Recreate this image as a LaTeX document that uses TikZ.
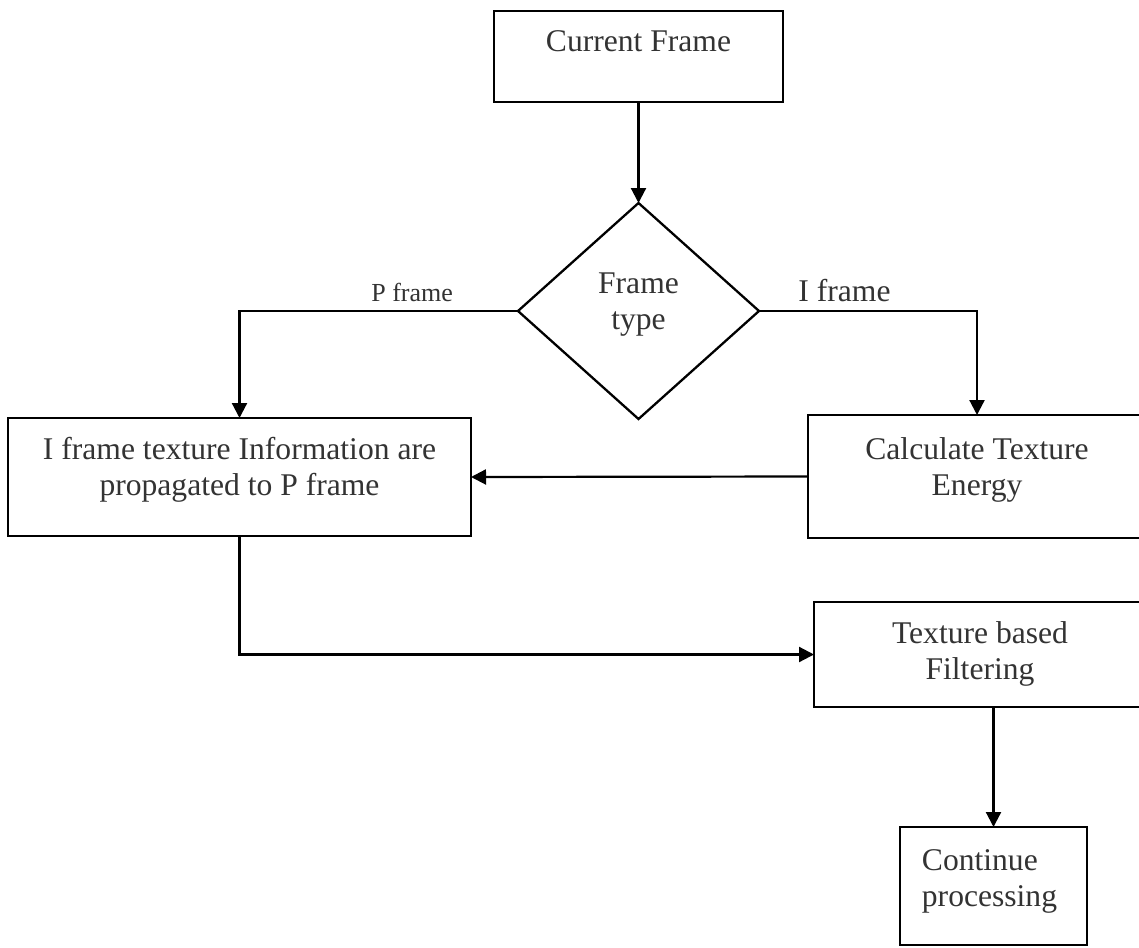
\documentclass[tikz,border=0pt]{standalone}
\usepackage{fontspec}
\setmainfont{Liberation Serif}
\usetikzlibrary{shapes.geometric,arrows.meta}

\begin{document}
\begin{tikzpicture}[x=1pt,y=-1pt,
  procbox/.style={draw,line width=2.6pt,inner sep=0pt,outer sep=0pt},
  decision/.style={draw,diamond,line width=2.3pt,inner sep=0pt,outer sep=0pt},
  boxtext/.style={anchor=center,align=center,text=black!80,font=\fontsize{31.6}{36}\selectfont},
  branch/.style={text=black!80,inner sep=8pt},
  flow/.style={line width=2.2pt,-{Triangle[length=15pt,width=15pt]}}]
  \useasboundingbox (0,0) rectangle (1139,947);
  \node[procbox,minimum width=289pt,minimum height=91pt,
        label={[boxtext,yshift=15pt]center:Current Frame}] (cur) at (638.5,56.5) {};
  \node[decision,minimum width=241pt,minimum height=216pt,
        label={[boxtext,yshift=6.5pt]center:Frame\\type}] (ftype) at (638.5,311) {};
  \node[procbox,minimum width=463pt,minimum height=118pt,
        label={[boxtext,yshift=7.5pt]center:I frame texture Information are\\propagated to P frame}] (prop) at (239.5,477) {};
  \node[procbox,minimum width=338pt,minimum height=123pt,
        label={[boxtext,yshift=7pt]center:Calculate Texture\\Energy}] (energy) at (977,476.5) {};
  \node[procbox,minimum width=332pt,minimum height=105pt,
        label={[boxtext,yshift=0.5pt]center:Texture based\\Filtering}] (filter) at (980,654.5) {};
  \node[procbox,minimum width=187pt,minimum height=118pt,
        label={[boxtext,align=left,xshift=-4pt,yshift=4.5pt]center:Continue\\processing}] (cont) at (993.5,886) {};

  \draw[flow] (cur.south) -- (ftype.north);
  \draw[flow] (ftype.west) -| node[branch,pos=0.19,above,font=\fontsize{26}{30}\selectfont] {P frame} (prop.north);
  \draw[flow] (ftype.east) -| node[branch,pos=0.196,above,font=\fontsize{31.6}{36}\selectfont] {I frame} (energy.north);
  \draw[flow] (energy.west) -- (prop.east);
  \draw[flow] (prop.south) |- (filter.west);
  \draw[flow] (cont.north |- filter.south) -- (cont.north);
\end{tikzpicture}
\end{document}
